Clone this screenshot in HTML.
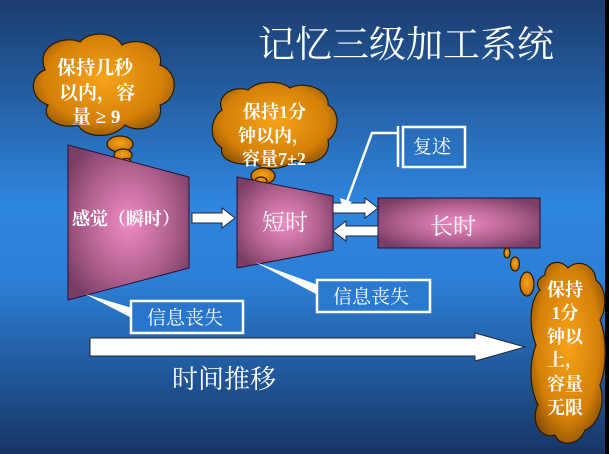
<!DOCTYPE html>
<html><head><meta charset="utf-8"><style>
html,body{margin:0;padding:0;background:#000;}
svg{display:block;}
text{font-family:"Liberation Serif","Noto Serif CJK SC",serif;fill:#fff;}
</style></head><body>
<svg width="609" height="454" viewBox="0 0 609 454" xmlns="http://www.w3.org/2000/svg">
<defs>
<linearGradient id="bg" x1="0" y1="0" x2="0" y2="1">
<stop offset="0" stop-color="#1b3c6e"/>
<stop offset="0.45" stop-color="#2f86df"/>
<stop offset="0.62" stop-color="#2c7fd6"/>
<stop offset="1" stop-color="#173565"/>
</linearGradient>
<radialGradient id="pink" cx="0.5" cy="0.5" r="0.6">
<stop offset="0" stop-color="#f08cc4"/>
<stop offset="0.6" stop-color="#b0608f"/>
<stop offset="1" stop-color="#7a3d66"/>
</radialGradient>
<radialGradient id="orng" cx="0.5" cy="0.45" r="0.6">
<stop offset="0" stop-color="#f7a31a"/>
<stop offset="0.7" stop-color="#d48008"/>
<stop offset="1" stop-color="#8a5004"/>
</radialGradient>
</defs>
<rect width="609" height="454" fill="url(#bg)"/>
<rect x="605" y="0" width="4" height="454" fill="#000"/>

<text x="258" y="57" font-size="37">记忆三级加工系统</text>

<!-- cloud 1 -->
<g fill="url(#orng)" stroke="#2a1a00" stroke-width="1.2">
<path d="M45,70 C35,45 65,35 80,42 C90,30 115,32 122,45 C140,35 165,48 160,65 C180,72 178,100 160,105 C165,125 140,135 125,125 C112,140 85,138 78,125 C60,130 40,118 48,105 C28,98 30,75 45,70 Z"/>
<ellipse cx="120" cy="144" rx="13" ry="8"/>
<ellipse cx="123" cy="155" rx="9" ry="6"/>
<ellipse cx="126" cy="162" rx="5" ry="3.5"/>
</g>
<g font-size="19" font-weight="bold">
<text x="57" y="74">保持几秒</text>
<text x="59" y="99">以内，容</text>
<text x="72" y="123">量 ≥ 9</text>
</g>

<!-- cloud 2 -->
<g fill="url(#orng)" stroke="#2a1a00" stroke-width="1.2">
<path d="M222,110 C215,95 235,85 248,90 C258,80 280,80 290,88 C305,80 330,90 328,105 C342,112 338,135 328,140 C332,158 310,168 295,160 C285,170 262,172 255,162 C240,168 218,160 222,148 C208,140 210,118 222,110 Z"/>
<ellipse cx="263" cy="176" rx="12" ry="8"/>
<ellipse cx="261" cy="181" rx="6" ry="4"/>
</g>
<g font-size="18" font-weight="bold">
<text x="243" y="118">保持1分</text>
<text x="238" y="142">钟以内，</text>
<text x="242" y="165">容量7±2</text>
</g>

<!-- cloud 3 -->
<g fill="url(#orng)" stroke="#2a1a00" stroke-width="1.2">
<path d="M545,275 C545,262 560,258 568,268 C578,258 595,265 596,280 C608,290 606,310 600,320 C608,340 606,370 600,385 C606,405 598,425 585,430 C580,445 560,448 555,435 C540,440 530,420 538,405 C528,385 530,360 536,345 C528,325 530,300 540,290 C535,284 538,278 545,275 Z"/>
<ellipse cx="507" cy="253" rx="3" ry="5"/>
<ellipse cx="515" cy="264" rx="4.5" ry="7"/>
<ellipse cx="527" cy="284" rx="7" ry="12"/>
</g>
<g font-size="18" font-weight="bold" text-anchor="middle">
<text x="565" y="296">保持</text>
<text x="565" y="319">1分</text>
<text x="565" y="343">钟以</text>
<text x="565" y="366">上，</text>
<text x="565" y="390">容量</text>
<text x="565" y="414">无限</text>
</g>

<!-- trapezoids -->
<polygon points="68,145 189,177 189,268 68,300" fill="url(#pink)" stroke="#2a1030" stroke-width="1"/>
<text x="72" y="225" font-size="18" font-weight="bold">感觉（瞬时）</text>
<polygon points="237,177 333,196 333,250 237,268" fill="url(#pink)" stroke="#2a1030" stroke-width="1"/>
<text x="262" y="230" font-size="23">短时</text>

<!-- long term box -->
<rect x="378" y="198" width="162" height="50" fill="url(#pink)" stroke="#2a1030" stroke-width="1"/>
<text x="430" y="234" font-size="23">长时</text>

<!-- arrows -->
<g fill="#fff" stroke="#223" stroke-width="1">
<polygon points="192,213 222,213 222,208 235,218 222,228 222,223 192,223"/>
<polygon points="333,203 365,203 365,198 378,208 365,218 365,213 333,213"/>
<polygon points="378,226 346,226 346,221 333,231 346,241 346,236 378,236"/>
<polygon points="90,338 475,338 475,333 525,347 475,361 475,356 90,356"/>
</g>

<!-- 复述 callout -->
<polyline points="398,133 372,133 346,204" fill="none" stroke="#fff" stroke-width="2.5"/>
<polygon points="340,198 352,202 343,210" fill="#fff"/>
<line x1="398" y1="126" x2="398" y2="167" stroke="#fff" stroke-width="2.5"/>
<rect x="403" y="127" width="62" height="40" fill="none" stroke="#fff" stroke-width="2.5"/>
<rect x="406" y="130" width="56" height="34" fill="none" stroke="#2a6fc0" stroke-width="1"/>
<text x="413" y="153" font-size="19">复述</text>

<!-- 信息丧失 1 -->
<polygon points="85,294 132,308 132,318" fill="#fff"/>
<rect x="131" y="301" width="112" height="32" fill="#2a75cc" stroke="#fff" stroke-width="2.5"/>
<text x="147" y="324" font-size="19">信息丧失</text>
<!-- 信息丧失 2 -->
<polygon points="255,262 318,285 318,295" fill="#fff"/>
<rect x="317" y="280" width="113" height="32" fill="#2a7ad2" stroke="#fff" stroke-width="2.5"/>
<text x="333" y="303" font-size="19">信息丧失</text>

<text x="172" y="388" font-size="26">时间推移</text>
</svg>
</body></html>
